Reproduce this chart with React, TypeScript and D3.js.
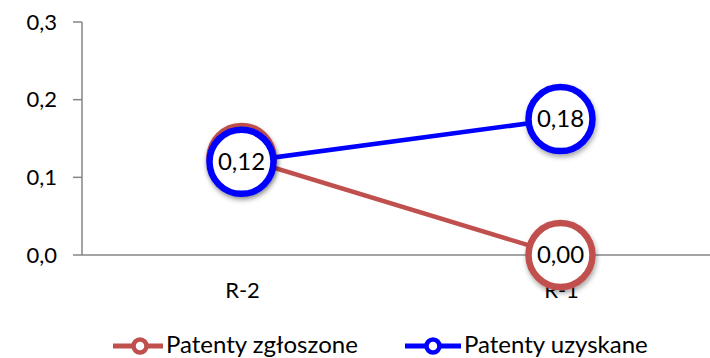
import React from "react";
import * as d3 from "d3";

const categories = ["R-2", "R-1"];
const seriesNames = ["Patenty zgłoszone", "Patenty uzyskane"];
const zgloszone = [0.125, 0.0];
const uzyskane = [0.12, 0.175];
const zgloszoneLabels = ["0,12", "0,00"];
const uzyskaneLabels = ["0,12", "0,18"];
const yTicks = [0, 0.1, 0.2, 0.3];
const yTickLabels = ["0,0", "0,1", "0,2", "0,3"];
const colors = ["#C0504D", "#0000FF"];

const W = 710;
const H = 358;
const left = 82;
const right = 720;
const top = 22;
const bottom = 255;
const font = "Lato, 'Open Sans', sans-serif";

export default function App() {
  const x = d3.scaleBand().domain(categories).range([left, right]);
  const y = d3.scaleLinear().domain([0, 0.3]).range([bottom, top]);
  const cx = (c: string) => (x(c) as number) + x.bandwidth() / 2;
  const line = d3
    .line<number>()
    .x((_, i) => cx(categories[i]))
    .y((v) => y(v));
  const series = [
    { name: seriesNames[0], values: zgloszone, labels: zgloszoneLabels, color: colors[0], showLabel: [false, true] },
    { name: seriesNames[1], values: uzyskane, labels: uzyskaneLabels, color: colors[1], showLabel: [true, true] },
  ];
  const r = 32;
  const legend = [
    { x0: 113, cxm: 140, x1: 163, tx: 166 },
    { x0: 405, cxm: 433, x1: 461, tx: 464 },
  ];
  const ly = 346;
  return (
    <svg width={W} height={H} style={{ position: "absolute", left: 0, top: 0 }}>
      <defs>
        <filter id="sh" x="-30%" y="-30%" width="160%" height="160%">
          <feDropShadow dx="1" dy="3" stdDeviation="2.5" floodColor="#000" floodOpacity="0.35" />
        </filter>
      </defs>
      <rect width={W} height={H} fill="#fff" />
      <line x1={left} x2={left} y1={top} y2={bottom} stroke="#868686" strokeWidth={1.5} />
      <line x1={left} x2={W} y1={bottom} y2={bottom} stroke="#868686" strokeWidth={1.5} />
      {yTicks.map((t, i) => (
        <g key={i}>
          <line x1={left - 9} x2={left} y1={y(t)} y2={y(t)} stroke="#868686" strokeWidth={1.5} />
          <text x={57} y={y(t)} dy="0.35em" textAnchor="end" fontFamily={font} fontSize={22} fill="#000">
            {yTickLabels[i]}
          </text>
        </g>
      ))}
      {categories.map((c) => (
        <text key={c} x={cx(c) + 1} y={290} dy="0.35em" textAnchor="middle" fontFamily={font} fontSize={22} fill="#000">
          {c}
        </text>
      ))}
      {series.map((s) => (
        <g key={s.name}>
          <path d={line(s.values) as string} fill="none" stroke={s.color} strokeWidth={4.5} />
          {s.values.map((v, i) => (
            <circle key={i} cx={cx(categories[i])} cy={y(v)} r={r} fill="#fff" stroke={s.color} strokeWidth={6.5} filter="url(#sh)" />
          ))}
        </g>
      ))}
      {series.map((s) =>
        s.values.map((v, i) =>
          s.showLabel[i] ? (
            <text key={s.name + i} x={cx(categories[i])} y={y(v)} dy="0.35em" textAnchor="middle" fontFamily={font} fontSize={24} fill="#000">
              {s.labels[i]}
            </text>
          ) : null
        )
      )}
      {series.map((s, i) => (
        <g key={"lg" + i}>
          <line x1={legend[i].x0} x2={legend[i].x1} y1={ly} y2={ly} stroke={s.color} strokeWidth={5} />
          <circle cx={legend[i].cxm} cy={ly} r={6.5} fill="#fff" stroke={s.color} strokeWidth={4.5} />
          <text x={legend[i].tx} y={353} fontFamily={font} fontSize={24} fill="#000">
            {s.name}
          </text>
        </g>
      ))}
    </svg>
  );
}
